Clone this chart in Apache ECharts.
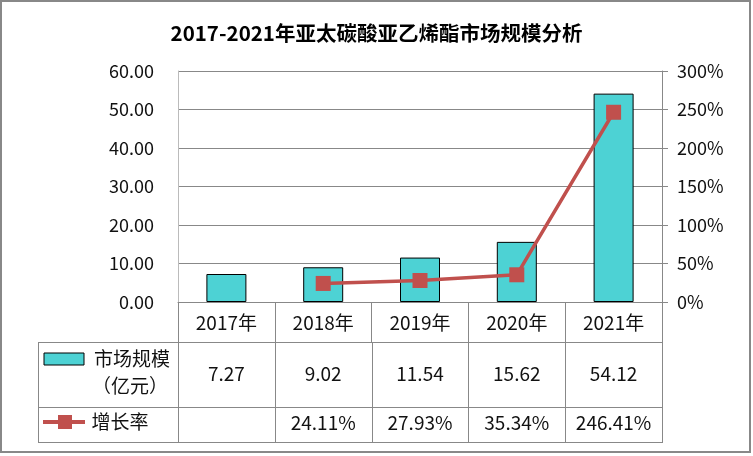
<!DOCTYPE html>
<html><head><meta charset="utf-8">
<script src="https://cdn.jsdelivr.net/npm/echarts@6/dist/echarts.min.js"></script>
<style>html,body{margin:0;padding:0;background:#fff}#c{width:753px;height:456px}</style>
</head><body><div id="c"></div>
<script>
const chartTitle = '2017-2021年亚太碳酸亚乙烯酯市场规模分析';
const categories = ['2017年', '2018年', '2019年', '2020年', '2021年'];
const marketSize = [7.27, 9.02, 11.54, 15.62, 54.12];
const growthRate = [null, 24.11, 27.93, 35.34, 246.41];
const barName = '市场规模（亿元）';
const lineName = '增长率';

const FONT = '"Noto Sans CJK SC", "Noto Sans", sans-serif';
const GRID = { left: 178, right: 91, top: 71, bottom: 154 };
const W = 753, H = 456;
const plotBottom = H - GRID.bottom;     // 302
const plotRight = W - GRID.right;       // 662
const ROW1 = 40, ROW2 = 65, ROW3 = 35;
const tableLeft = 38;
const gray = '#888888';
const barColor = '#4DD2D4';
const lineColor = '#C0504D';

const y1 = plotBottom + ROW1, y2 = y1 + ROW2, y3 = y2 + ROW3;

// table rules (rows 2 and 3)
const tableLines = [];
const hl = (x1, yy, x2) => tableLines.push({ type: 'line', shape: { x1: x1, y1: yy + 0.5, x2: x2, y2: yy + 0.5 }, style: { stroke: gray, lineWidth: 1 } });
const vl = (xx, ya, yb) => tableLines.push({ type: 'line', shape: { x1: xx + 0.5, y1: ya, x2: xx + 0.5, y2: yb }, style: { stroke: gray, lineWidth: 1 } });
hl(tableLeft, y1, plotRight); hl(tableLeft, y2, plotRight); hl(tableLeft, y3, plotRight);
vl(tableLeft, y1, y3 + 1);
const colW = (plotRight - GRID.left) / categories.length;
for (let i = 0; i <= categories.length; i++) vl(Math.round(GRID.left + i * colW), y1, y3 + 1);

const chart = echarts.init(document.getElementById('c'), null, { renderer: 'canvas' });
chart.setOption({
  animation: false,
  backgroundColor: '#fff',
  textStyle: { fontFamily: FONT },
  title: {
    text: chartTitle, left: 'center', top: 18,
    textStyle: { fontFamily: FONT, fontSize: 20.5, fontWeight: 'bold', color: '#000' }
  },
  grid: GRID,
  xAxis: [
    {
      type: 'category', data: categories, position: 'bottom',
      axisLine: { lineStyle: { color: gray, width: 1 } },
      axisTick: { show: true, length: ROW1, interval: 0, lineStyle: { color: gray } },
      axisLabel: { interval: 0, fontSize: 19, color: '#111', margin: 11, fontFamily: FONT }
    },
    {
      type: 'category', data: categories, position: 'bottom', offset: ROW1,
      axisLine: { show: false }, axisTick: { show: false },
      axisLabel: { interval: 0, fontSize: 19, color: '#111', margin: 22, fontFamily: FONT,
        formatter: (v, i) => marketSize[i].toFixed(2) }
    },
    {
      type: 'category', data: categories, position: 'bottom', offset: ROW1 + ROW2,
      axisLine: { show: false }, axisTick: { show: false },
      axisLabel: { interval: 0, fontSize: 19, color: '#111', margin: 6, fontFamily: FONT,
        formatter: (v, i) => growthRate[i] == null ? '' : growthRate[i].toFixed(2) + '%' }
    }
  ],
  yAxis: [
    {
      type: 'value', min: 0, max: 60, interval: 10,
      axisLine: { show: true, lineStyle: { color: '#bbbbbb' } },
      axisTick: { show: false },
      splitLine: { show: true, lineStyle: { color: gray, width: 1 } },
      axisLabel: { fontSize: 18, color: '#111', margin: 24, fontFamily: FONT,
        formatter: v => v.toFixed(2) }
    },
    {
      type: 'value', min: 0, max: 300, interval: 50, position: 'right',
      axisLine: { show: true, lineStyle: { color: gray } },
      axisTick: { show: true, length: 6, lineStyle: { color: gray } },
      splitLine: { show: false },
      axisLabel: { fontSize: 18, color: '#111', margin: 15, fontFamily: FONT,
        formatter: v => v + '%' }
    }
  ],
  series: [
    {
      name: barName, type: 'bar', data: marketSize, barWidth: 40,
      itemStyle: { color: barColor, borderColor: '#000', borderWidth: 1 }
    },
    {
      name: lineName, type: 'line', yAxisIndex: 1, data: growthRate,
      symbol: 'rect', symbolSize: 15, connectNulls: false,
      lineStyle: { color: lineColor, width: 3.5 },
      itemStyle: { color: lineColor }
    }
  ],
  graphic: tableLines.concat([
    { type: 'rect', shape: { x: 1, y: 1, width: W - 4, height: H - 5 },
      style: { fill: 'none', stroke: '#888', lineWidth: 2 }, z: 10 },
    { type: 'rect', shape: { x: 44, y: 353, width: 40, height: 12 },
      style: { fill: barColor, stroke: '#000', lineWidth: 1 } },
    { type: 'text', x: 132, y: 359, style: { text: '市场规模', font: '19px ' + FONT, fill: '#111', textAlign: 'center', textVerticalAlign: 'middle' } },
    { type: 'text', x: 130, y: 386, style: { text: '（亿元）', font: '19px ' + FONT, fill: '#111', textAlign: 'center', textVerticalAlign: 'middle' } },
    { type: 'line', shape: { x1: 43, y1: 422, x2: 85, y2: 422 }, style: { stroke: lineColor, lineWidth: 4 } },
    { type: 'rect', shape: { x: 58, y: 415, width: 14, height: 14 }, style: { fill: lineColor } },
    { type: 'text', x: 120, y: 422, style: { text: '增长率', font: '19px ' + FONT, fill: '#111', textAlign: 'center', textVerticalAlign: 'middle' } }
  ])
});
</script>
</body></html>
